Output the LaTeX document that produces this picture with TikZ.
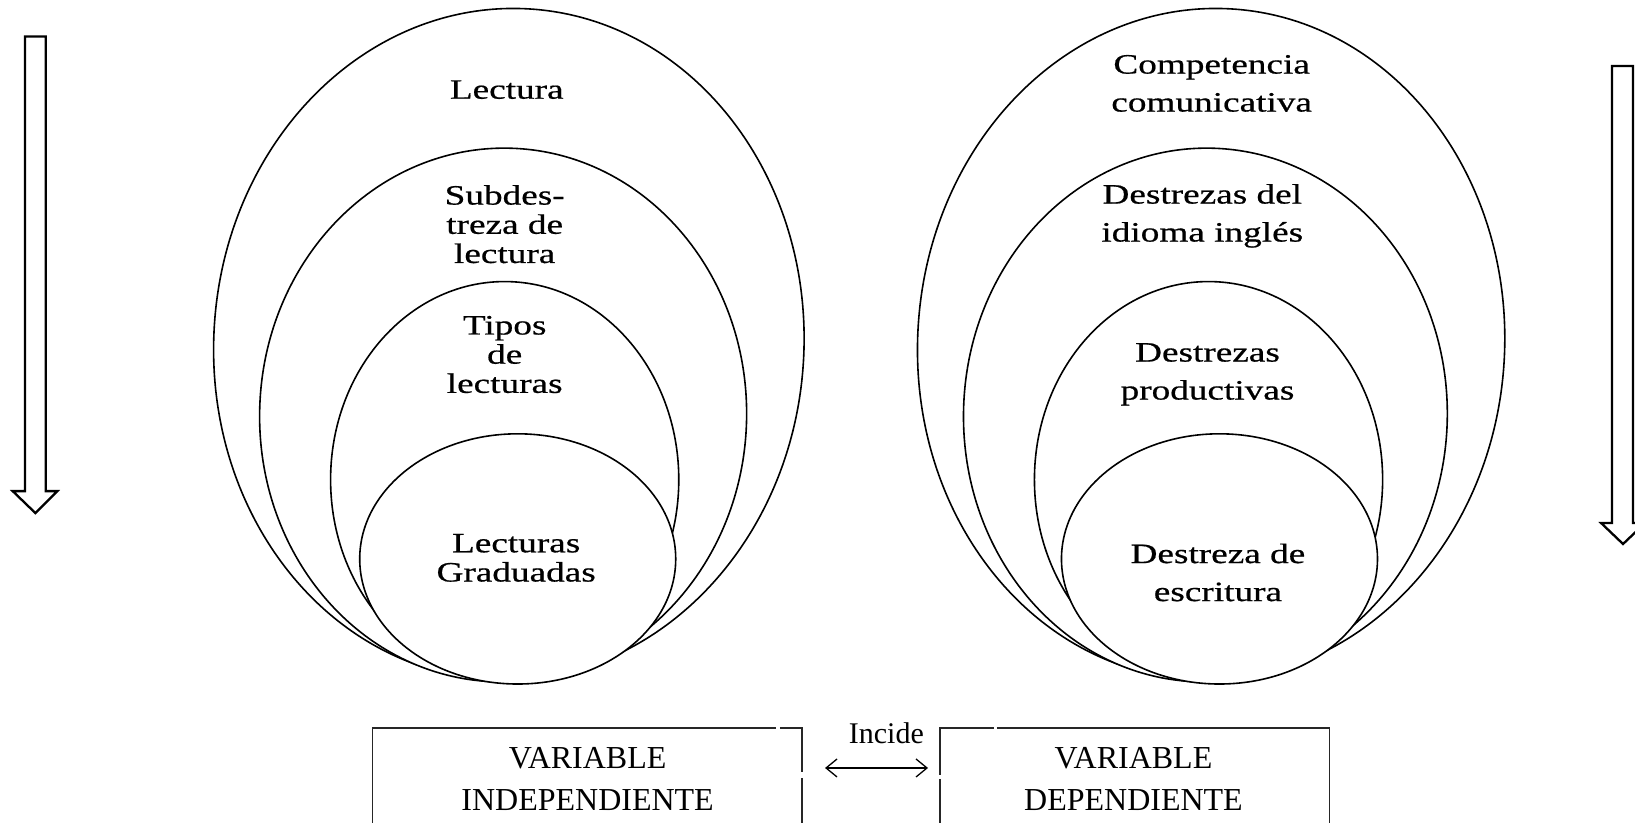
\documentclass[tikz,border=0pt]{standalone}
\usepackage{fontspec}
\setmainfont{Liberation Serif}
\newfontfamily\ovalfont[FakeStretch=1.33,FakeBold=0.6]{Liberation Serif}
\usetikzlibrary{arrows.meta}
\begin{document}
\begin{tikzpicture}[x=1.04273pt,y=-1.04273pt,
  ring/.style={draw=black, fill=white, line width=1.6pt},
  ovaltext/.style={font=\ovalfont\fontsize{28}{29.2}\selectfont, align=center, inner sep=0pt},
  ovaltextwide/.style={ovaltext, font=\ovalfont\fontsize{28}{38}\selectfont},
  vartext/.style={font=\fontsize{32}{42}\selectfont, align=center, inner sep=0pt},
  inctext/.style={font=\fontsize{30}{32}\selectfont, inner sep=0pt},
  boxline/.style={draw=black!85, line width=1.4pt},
  blockarrow/.style={draw=black, fill=white, line width=2.3pt, line join=miter},
  linkarrow/.style={{Straight Barb[length=11pt,width=18pt]}-{Straight Barb[length=11pt,width=18pt]}, line width=1.3pt},
]
\useasboundingbox (0,0) rectangle (1568,789);

% ---- nested ovals: reading ----
\coordinate (L1) at (488,330);
\coordinate (L2) at (482.5,398);
\coordinate (L3) at (484,460);
\coordinate (L4) at (496.5,536);
\filldraw[ring] (L1) ellipse [x radius=295.1pt, y radius=335.8pt, rotate=-3.5];
\filldraw[ring] (L2) ellipse [x radius=243.5pt, y radius=266.9pt, rotate=-1.5];
\filldraw[ring] (L3) ellipse [x radius=174.1pt, y radius=198.1pt];
\filldraw[ring] (L4) ellipse [x radius=158.0pt, y radius=125.1pt];

\node[ovaltext] (lectura) at (486,86) {Lectura};
\node[ovaltext] (subdes) at (484,215) {Subdes-\\treza de\\lectura};
\node[ovaltext] (tipos) at (484,340) {Tipos\\de\\lecturas};
\node[ovaltext] (graduadas) at (495,535) {Lecturas\\Graduadas};

% ---- nested ovals: communicative competence ----
\coordinate (R1) at (1161.5,330);
\coordinate (R2) at (1156,398);
\coordinate (R3) at (1159,460);
\coordinate (R4) at (1169.5,536);
\filldraw[ring] (R1) ellipse [x radius=293.5pt, y radius=335.8pt, rotate=-3.5];
\filldraw[ring] (R2) ellipse [x radius=241.9pt, y radius=266.9pt, rotate=-1.5];
\filldraw[ring] (R3) ellipse [x radius=174.1pt, y radius=198.1pt];
\filldraw[ring] (R4) ellipse [x radius=158.0pt, y radius=125.1pt];

\node[ovaltextwide] (competencia) at (1162,80) {Competencia\\comunicativa};
\node[ovaltextwide] (destrezas) at (1153,207) {Destrezas del\\idioma inglés};
\node[ovaltextwide] (productivas) at (1158,359) {Destrezas\\productivas};
\node[ovaltextwide] (escritura) at (1168,549) {Destreza de\\escritura};

% ---- downward block arrows ----
\draw[blockarrow] (24,35) -- (43.8,35) -- (43.8,471) -- (55,471) -- (33.9,492)
  -- (12.2,471) -- (24,471) -- cycle;
\draw[blockarrow] (1546,63.3) -- (1566,63.3) -- (1566,501.6) -- (1577.6,501.6)
  -- (1556.5,521.7) -- (1535.5,501.6) -- (1546,501.6) -- cycle;

% ---- variable boxes ----
\coordinate (vi-sw) at (357,800);
\coordinate (vi-nw) at (357,698);
\coordinate (vi-ne) at (769,698);
\coordinate (vi-se) at (769,800);
\draw[boxline] (vi-sw) -- (vi-nw) -- (744,698);
\draw[boxline] (748,698) -- (vi-ne) -- (769,740);
\draw[boxline] (769,746) -- (vi-se);

\coordinate (vd-sw) at (901.5,800);
\coordinate (vd-nw) at (901.5,698);
\coordinate (vd-ne) at (1275,698);
\coordinate (vd-se) at (1275,800);
\draw[boxline] (901.5,743) -- (vd-nw) -- (953,698);
\draw[boxline] (956,698) -- (vd-ne) -- (vd-se);
\draw[boxline] (901.5,747) -- (vd-sw);

\node[vartext] (indep) at (563.5,746.8) {VARIABLE\\INDEPENDIENTE};
\node[vartext] (dep) at (1087,746.8) {VARIABLE\\DEPENDIENTE};

% ---- relation between the variables ----
\coordinate (inc-l) at (791.2,736.5);
\coordinate (inc-r) at (890,736.5);
\draw[linkarrow] (inc-l) -- (inc-r);
\node[inctext, anchor=base] (incide) at (850,712.6) {Incide};

\end{tikzpicture}
\end{document}
